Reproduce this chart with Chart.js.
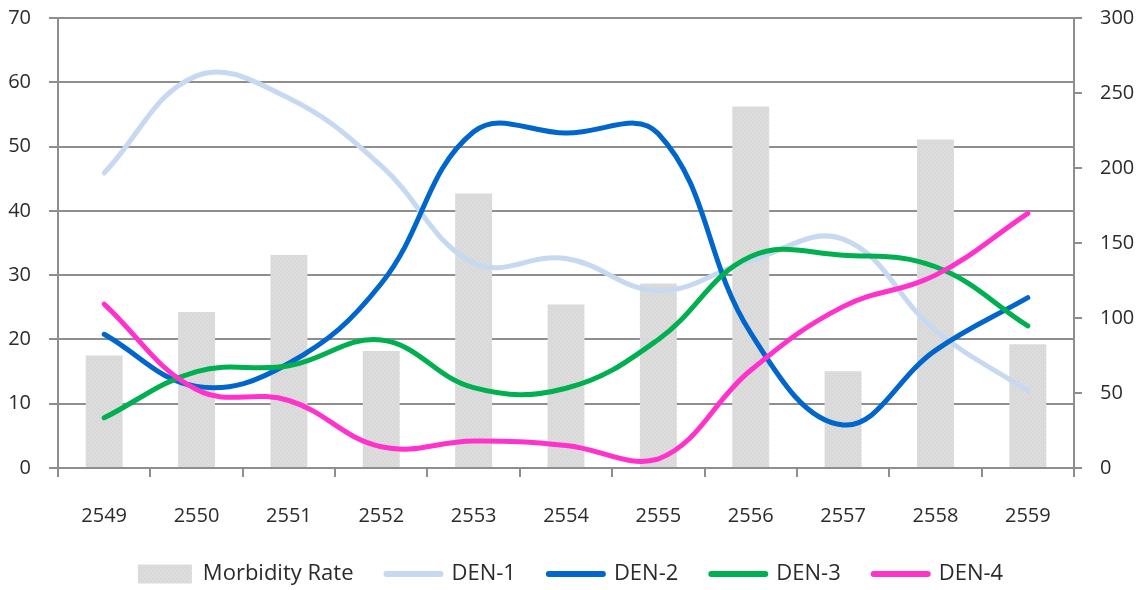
<!DOCTYPE html>
<html>
<head>
<meta charset="utf-8">
<script src="https://cdn.jsdelivr.net/npm/chart.js@4"></script>
<style>
html,body{margin:0;padding:0;background:#fff;}
#wrap{width:1141px;height:590px;position:relative;}
</style>
</head>
<body>
<div id="wrap"><canvas id="c" width="1141" height="590"></canvas></div>
<script>
const categories = ['2549','2550','2551','2552','2553','2554','2555','2556','2557','2558','2559'];
const morbidityRate = [75, 104, 142, 78, 183, 109, 123, 241, 64.5, 219, 82.5];
const den1 = [45.9, 61.0, 57.5, 47.0, 31.9, 32.6, 27.6, 32.3, 35.6, 21.4, 12.0];
const den2 = [20.8, 12.7, 16.3, 28.7, 52.3, 52.1, 52.0, 21.0, 6.7, 18.3, 26.5];
const den3 = [7.8, 15.0, 15.9, 19.9, 12.5, 12.4, 20.0, 32.9, 33.1, 31.3, 22.1];
const den4 = [25.5, 12.2, 10.5, 3.3, 4.2, 3.5, 1.4, 15.2, 25.1, 30.0, 39.6];
const leftTicks = [0, 10, 20, 30, 40, 50, 60, 70];
const rightTicks = [0, 50, 100, 150, 200, 250, 300];

function makePattern() {
  const p = document.createElement('canvas');
  p.width = 4; p.height = 4;
  const g = p.getContext('2d');
  g.fillStyle = '#d9d9d9';
  g.fillRect(0, 0, 4, 4);
  g.fillStyle = '#e6e6e6';
  g.fillRect(0, 0, 1, 1);
  g.fillRect(2, 2, 1, 1);
  return g.createPattern(p, 'repeat');
}
const barFill = makePattern();

const FONT = {family: '"Open Sans", "Noto Sans", sans-serif', size: 20};
const LFONT = {family: '"Open Sans", "Noto Sans", sans-serif', size: 22};
const TXT = '#2b2b2b';
const GRID = '#8e8e8e';

const ctx = document.getElementById('c').getContext('2d');
new Chart(ctx, {
  type: 'bar',
  data: {
    labels: categories,
    datasets: [
      {type:'bar', label:'Morbidity Rate', data: morbidityRate, yAxisID:'y1', backgroundColor: barFill, borderWidth:0, order:10, barPercentage:0.4, categoryPercentage:1.0},
      {type:'line', label:'DEN-1', data: den1, yAxisID:'y', borderColor:'#c6d9f0', backgroundColor:'#c6d9f0', borderWidth:5, pointRadius:0, tension:0.4, order:4, borderCapStyle:'round', fill:false},
      {type:'line', label:'DEN-2', data: den2, yAxisID:'y', borderColor:'#0066cc', backgroundColor:'#0066cc', borderWidth:5, pointRadius:0, tension:0.4, order:3, borderCapStyle:'round', fill:false},
      {type:'line', label:'DEN-3', data: den3, yAxisID:'y', borderColor:'#00b050', backgroundColor:'#00b050', borderWidth:5, pointRadius:0, tension:0.4, order:2, borderCapStyle:'round', fill:false},
      {type:'line', label:'DEN-4', data: den4, yAxisID:'y', borderColor:'#ff33cc', backgroundColor:'#ff33cc', borderWidth:5, pointRadius:0, tension:0.4, order:1, borderCapStyle:'round', fill:false}
    ]
  },
  options: {
    responsive: false,
    animation: false,
    layout: {padding: {top: 18, left: 0, right: 0, bottom: -5}},
    plugins: {
      tooltip: {enabled:false},
      legend: {
        position: 'bottom',
        labels: {
          font: LFONT,
          color: TXT,
          usePointStyle: true,
          pointStyleWidth: 54,
          boxHeight: 19,
          padding: 33,
          sort: (a, b) => a.datasetIndex - b.datasetIndex,
          generateLabels: (chart) => chart.data.datasets.map((ds, i) => ({
            text: ds.label,
            fillStyle: ds.type === 'bar' ? barFill : ds.borderColor,
            strokeStyle: ds.type === 'bar' ? 'rgba(0,0,0,0)' : ds.borderColor,
            lineWidth: ds.type === 'bar' ? 0 : 6,
            lineCap: 'round',
            pointStyle: ds.type === 'bar' ? 'rect' : 'line',
            fontColor: TXT,
            hidden: false,
            datasetIndex: i
          }))
        }
      }
    },
    scales: {
      x: {
        ticks: {font: FONT, color: TXT, padding: 27, maxRotation:0},
        grid: {display:true, drawOnChartArea:false, drawTicks:true, tickLength:9, color: GRID, lineWidth:2, offset:true},
        border: {display:true, color: GRID, width:2},
        afterFit: (s) => { s.height = 62; }
      },
      y: {
        position: 'left',
        min: 0, max: 70,
        afterBuildTicks: (s) => { s.ticks = leftTicks.map(v => ({value: v})); },
        ticks: {font: FONT, color: TXT, padding: 18},
        grid: {color: GRID, lineWidth:2, tickLength:9, drawTicks:true},
        border: {display:true, color: GRID, width:2},
        afterFit: (s) => { s.width = 58; s.paddingTop = 0; s.paddingBottom = 0; }
      },
      y1: {
        position: 'right',
        min: 0, max: 300,
        afterBuildTicks: (s) => { s.ticks = rightTicks.map(v => ({value: v})); },
        ticks: {font: FONT, color: TXT, padding: 18},
        grid: {drawOnChartArea:false, color: GRID, lineWidth:2, tickLength:8, drawTicks:true},
        border: {display:true, color: GRID, width:2},
        afterFit: (s) => { s.width = 67; s.paddingTop = 0; s.paddingBottom = 0; }
      }
    }
  }
});
</script>
</body>
</html>
